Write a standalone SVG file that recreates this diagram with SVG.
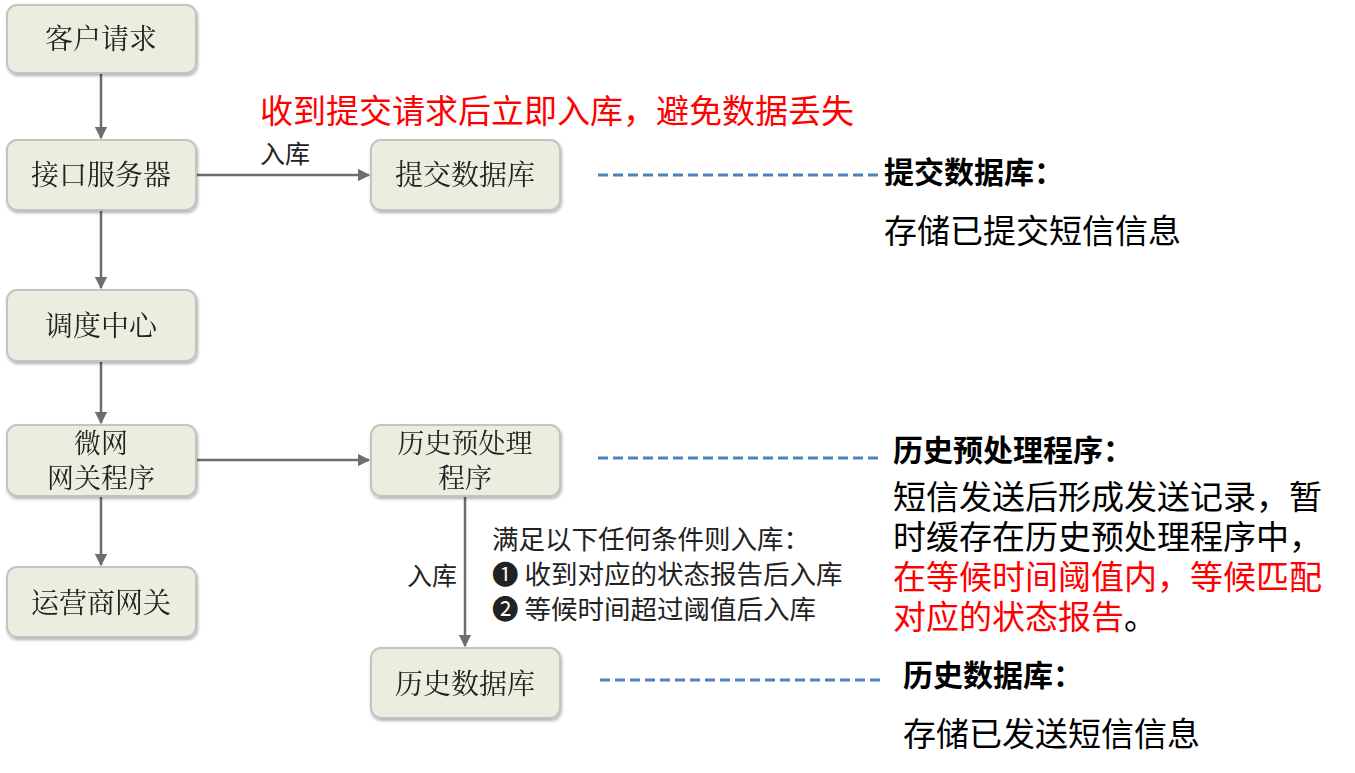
<svg xmlns="http://www.w3.org/2000/svg" width="1355" height="773" viewBox="0 0 1355 773">
<defs>
<style>
.box{fill:#ebeedf;stroke:#c3c3c3;stroke-width:2}
.bt{font-family:"Noto Serif CJK SC","Noto Sans CJK SC",serif;font-size:28px;fill:#222;text-anchor:middle}
.bt2{font-family:"Noto Serif CJK SC","Noto Sans CJK SC",serif;font-size:27px;fill:#222;text-anchor:middle}
.ln{stroke:#6e6e6e;stroke-width:2.5;fill:none;marker-end:url(#a)}
.lab{font-family:"Noto Sans CJK SC",sans-serif;font-size:25px;fill:#222}
.lab2{font-family:"Noto Sans CJK SC",sans-serif;font-size:26.5px;fill:#222}
.dash{stroke:#4f81bd;stroke-width:3;stroke-dasharray:10 5}
.hd{font-family:"Noto Sans CJK SC",sans-serif;font-size:30px;font-weight:bold;fill:#000}
.tx{font-family:"Noto Sans CJK SC",sans-serif;font-size:33px;fill:#000}
.red{fill:#ff0000}
</style>
<marker id="a" viewBox="0 0 10 10" refX="9" refY="5" markerWidth="5" markerHeight="5" orient="auto"><path d="M0 0L10 5L0 10z" fill="#6e6e6e"/></marker>
<filter id="sh"><feDropShadow dx="1" dy="2" stdDeviation="1.5" flood-opacity="0.3"/></filter>
</defs>
<g id="connectors">
<line class="ln" x1="101" y1="73" x2="101" y2="138"/>
<line class="ln" x1="101" y1="210" x2="101" y2="288"/>
<line class="ln" x1="101" y1="361" x2="101" y2="423"/>
<line class="ln" x1="101" y1="496" x2="101" y2="565"/>
<line class="ln" x1="196" y1="175" x2="369" y2="175"/>
<line class="ln" x1="196" y1="460" x2="369" y2="460"/>
<line class="ln" x1="465" y1="496" x2="465" y2="646"/>
<text class="lab" x="260" y="163">入库</text>
<text class="lab" x="407" y="585">入库</text>
</g>
<g id="n1" filter="url(#sh)"><rect class="box" x="7" y="5" width="189" height="68" rx="10"/><text class="bt" x="101" y="49">客户请求</text></g>
<g id="n2" filter="url(#sh)"><rect class="box" x="7" y="140" width="189" height="70" rx="10"/><text class="bt" x="101" y="185">接口服务器</text></g>
<g id="n3" filter="url(#sh)"><rect class="box" x="7" y="290" width="189" height="71" rx="10"/><text class="bt" x="101" y="336">调度中心</text></g>
<g id="n4" filter="url(#sh)"><rect class="box" x="7" y="425" width="189" height="71" rx="10"/><text class="bt2" x="101" y="453">微网</text><text class="bt2" x="101" y="488">网关程序</text></g>
<g id="n5" filter="url(#sh)"><rect class="box" x="7" y="567" width="189" height="70" rx="10"/><text class="bt" x="101" y="613">运营商网关</text></g>
<g id="n6" filter="url(#sh)"><rect class="box" x="371" y="140" width="189" height="70" rx="10"/><text class="bt" x="465" y="185">提交数据库</text></g>
<g id="n7" filter="url(#sh)"><rect class="box" x="371" y="425" width="189" height="71" rx="10"/><text class="bt2" x="465" y="453">历史预处理</text><text class="bt2" x="465" y="488">程序</text></g>
<g id="n8" filter="url(#sh)"><rect class="box" x="371" y="648" width="189" height="70" rx="10"/><text class="bt" x="465" y="694">历史数据库</text></g>
<g id="notes">
<text x="260" y="123" style="font-family:'Noto Sans CJK SC',sans-serif;font-size:33px;fill:#ff0000">收到提交请求后立即入库，避免数据丢失</text>
<text class="lab2" x="492" y="549">满足以下任何条件则入库：</text>
<text class="lab2" x="492" y="584">❶  收到对应的状态报告后入库</text>
<text class="lab2" x="492" y="619">❷  等候时间超过阈值后入库</text>
<line class="dash" x1="598" y1="175" x2="878" y2="175"/>
<line class="dash" x1="598" y1="458" x2="878" y2="458"/>
<line class="dash" x1="600" y1="680" x2="880" y2="680"/>
<text class="hd" x="884" y="183">提交数据库：</text>
<text class="tx" x="884" y="243">存储已提交短信信息</text>
<text class="hd" x="893" y="461">历史预处理程序：</text>
<text class="tx" x="893" y="509">短信发送后形成发送记录，暂</text>
<text class="tx" x="893" y="549">时缓存在历史预处理程序中，</text>
<text class="tx red" x="893" y="589">在等候时间阈值内，等候匹配</text>
<text class="tx" x="893" y="629"><tspan class="red">对应的状态报告</tspan>。</text>
<text class="hd" x="903" y="686">历史数据库：</text>
<text class="tx" x="903" y="746">存储已发送短信信息</text>
</g>
</svg>
